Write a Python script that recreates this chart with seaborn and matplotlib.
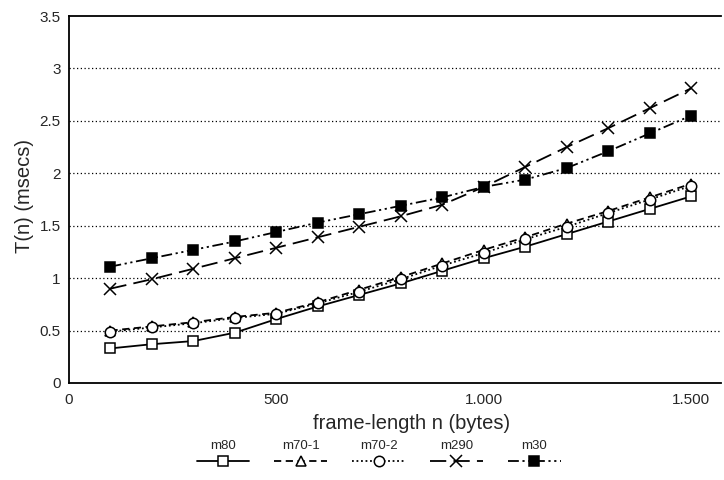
import numpy as np
import pandas as pd
import matplotlib
matplotlib.use("Agg")
import matplotlib.pyplot as plt
import seaborn as sns
from matplotlib.offsetbox import VPacker

frame_len = [100, 200, 300, 400, 500, 600, 700, 800, 900, 1000, 1100, 1200, 1300, 1400, 1500]
m80 = [0.33, 0.37, 0.40, 0.48, 0.61, 0.73, 0.84, 0.95, 1.07, 1.19, 1.30, 1.42, 1.54, 1.66, 1.78]
m70_1 = [0.50, 0.54, 0.58, 0.63, 0.67, 0.77, 0.89, 1.01, 1.14, 1.27, 1.39, 1.52, 1.64, 1.77, 1.90]
m70_2 = [0.49, 0.53, 0.57, 0.62, 0.66, 0.76, 0.87, 0.99, 1.12, 1.24, 1.37, 1.49, 1.62, 1.75, 1.88]
m290 = [0.90, 0.99, 1.09, 1.19, 1.29, 1.39, 1.49, 1.59, 1.70, 1.87, 2.06, 2.25, 2.43, 2.62, 2.81]
m30 = [1.11, 1.19, 1.27, 1.35, 1.44, 1.53, 1.61, 1.69, 1.77, 1.87, 1.94, 2.05, 2.21, 2.38, 2.55]

series = ["m80", "m70-1", "m70-2", "m290", "m30"]
y_ticks = [0, 0.5, 1, 1.5, 2, 2.5, 3, 3.5]
y_labels = ["0", "0.5", "1", "1.5", "2", "2.5", "3", "3.5"]
x_ticks = [0, 500, 1000, 1500]
x_labels = ["0", "500", "1.000", "1.500"]

df = pd.DataFrame({"n": frame_len * 5,
                   "T": m80 + m70_1 + m70_2 + m290 + m30,
                   "model": [s for s in series for _ in frame_len]})

sns.set_style("white")
plt.rcParams["font.family"] = ["Liberation Sans", "DejaVu Sans"]

# line style, marker, filled
styles = {
    "m80": ("-", "s", False),
    "m70-1": ((0, (4, 2.5)), "^", False),
    "m70-2": ((0, (1, 1.5)), "o", False),
    "m290": ((0, (9, 4)), "x", False),
    "m30": ((0, (6, 2, 1.2, 2, 1.2, 2)), "s", True),
}

fig = plt.figure(figsize=(7.24, 4.8), dpi=100)
ax = fig.add_axes([69 / 724, 97 / 480, 652 / 724, 367 / 480])

for name in series:
    ls, mk, filled = styles[name]
    sub = df[df["model"] == name]
    sns.lineplot(data=sub, x="n", y="T", ax=ax, color="black", linewidth=1.3,
                 linestyle=ls, marker=mk, markersize=7.5 if mk != "x" else 8,
                 markerfacecolor="black" if filled else "white",
                 markeredgecolor="black", markeredgewidth=1.1, label=name)

ax.set_xlim(0, 1572)
ax.set_ylim(0, 3.5)
ax.set_yticks(y_ticks)
ax.set_yticklabels(y_labels)
ax.set_yticks(np.arange(0.25, 3.5, 0.5), minor=True)
ax.set_xticks(x_ticks)
ax.set_xticklabels(x_labels)
ax.tick_params(axis="both", which="major", direction="in", length=6, width=1,
               labelsize=11, color="black")
ax.tick_params(axis="y", which="minor", direction="in", length=4, width=1, color="black")
ax.tick_params(axis="x", pad=7)
ax.tick_params(axis="y", pad=6)

for y in y_ticks[1:-1]:
    ax.axhline(y, color="black", linestyle=(0, (1, 2)), linewidth=0.9, zorder=0)

for side in ["left", "bottom", "top"]:
    ax.spines[side].set_color("black")
    ax.spines[side].set_linewidth(1.3)
ax.spines["right"].set_visible(False)

ax.set_xlabel("frame-length n (bytes)", fontsize=14.5)
ax.set_ylabel("T(n) (msecs)", fontsize=14.5)
ax.xaxis.set_label_coords(0.526, -0.085)
ax.yaxis.set_label_coords(-0.054, 0.51)

ax.get_legend().remove()
handles, labels = ax.get_legend_handles_labels()
leg = fig.legend(handles, labels, ncol=5, loc="upper center",
                 bbox_to_anchor=(0.523, 0.094), frameon=False, fontsize=9.5,
                 handlelength=4.0, numpoints=1, columnspacing=1.9,
                 borderaxespad=0)
# put each label above its line sample
for col in leg._legend_handle_box.get_children():
    for row in col.get_children():
        row.__class__ = VPacker
        row._children = row._children[::-1]
        row.align = "center"
        row.sep = 3

fig.savefig("out.png", dpi=100)
